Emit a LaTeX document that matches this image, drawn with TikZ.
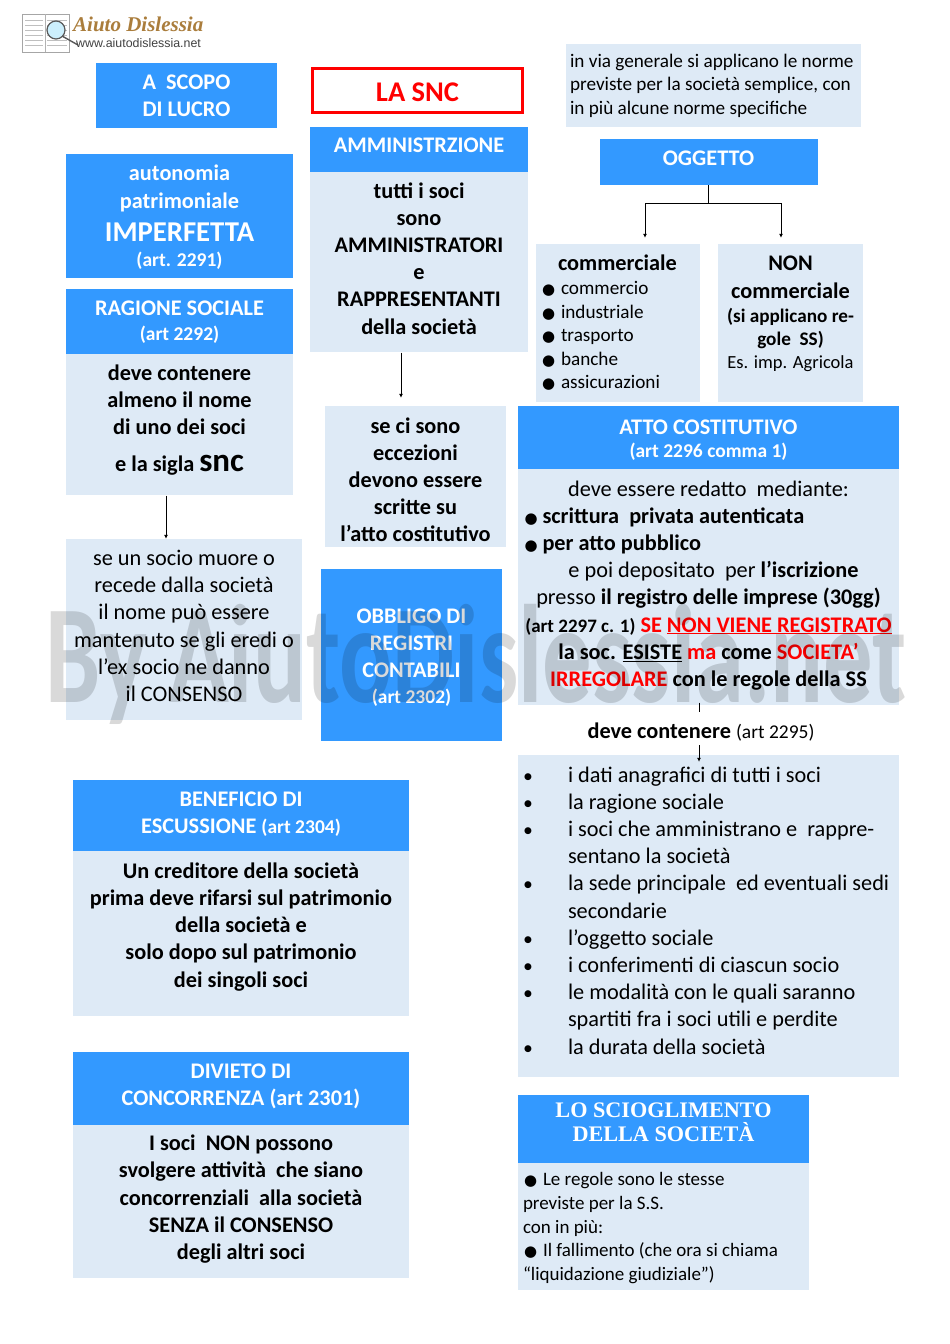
\documentclass[tikz,border=0pt]{standalone}
\usepackage{fontspec}
\setmainfont{Carlito}
\newfontfamily\symfont{DejaVu Sans}
\newfontfamily\titlefont{Liberation Serif}
\newfontfamily\logofont{Liberation Sans}
\usetikzlibrary{arrows.meta, positioning}
\definecolor{headblue}{HTML}{3399FF}
\definecolor{bodyblue}{HTML}{DEEAF6}
\definecolor{logobrown}{RGB}{170,125,60}
\newcommand{\bodysize}{\fontsize{22.3}{27.2}\selectfont}
\newcommand{\artsize}{\fontsize{19.5}{27.2}\selectfont}
\newcommand{\smallsize}{\fontsize{19}{23.6}\selectfont}
\newcommand{\pallino}[1]{\makebox[#1][l]{{\symfont\fontsize{15}{15}\selectfont ●}}}
\newcommand{\puntino}[1]{\makebox[#1][l]{\raisebox{3pt}{\symfont\fontsize{9}{9}\selectfont ●}}}
\newcommand{\rosso}[1]{\textcolor{red}{#1}}

\begin{document}
\begin{tikzpicture}[
    x=1pt, y=-1pt,
    box/.style={inner xsep=0pt, inner ysep=0pt, align=flush center, font=\bodysize},
    headbox/.style={box, fill=headblue, text=white, font=\bodysize\bfseries},
    boldbox/.style={box, fill=bodyblue, font=\bodysize\bfseries},
    plainbox/.style={box, fill=bodyblue},
    dim/.style 2 args={text width=#1pt, minimum height=#2pt},
    raised/.style={execute at end node={\\[#1]\mbox{}}},
    lowered/.style={execute at begin node={\mbox{}\\[#1]}},
    arr/.style={-{Latex[length=4pt,width=4pt]}, line width=0.9pt}
  ]
    \useasboundingbox (0,0) rectangle (950,1344);
    % logo
    \fill[white, draw=gray!70, line width=1pt] (22,14) rectangle (69,52);
    \draw[gray!60, line width=0.8pt] (45,14) -- (45,52);
    \foreach \yy in {20,25,30,35,40,45} {
      \draw[gray!50, line width=0.7pt] (25,\yy) -- (43,\yy);
      \draw[gray!50, line width=0.7pt] (47,\yy) -- (67,\yy);
    }
    \draw[gray!70!black, line width=1.4pt] (62,36) -- (78,45);
    \draw[gray!70!black, fill=cyan!20, line width=1.2pt] (56,30) circle (9);
    \node[anchor=west, inner sep=0pt, text=logobrown, font=\titlefont\bfseries\itshape\fontsize{21}{21}\selectfont] (logotitle) at (73,24) {Aiuto Dislessia};
    \node[anchor=west, inner sep=0pt, text=black!75, font=\logofont\fontsize{12.4}{12.4}\selectfont] (logourl) at (76,43) {www.aiutodislessia.net};
    % colonna sinistra
    \node[headbox, dim={181}{65}] (scopo) at (186.5,95.5) {A\ \ SCOPO\\DI LUCRO};
    \node[headbox, dim={227}{124}, lowered=-9pt] (autonomia) at (179.5,216) {autonomia\\patrimoniale\\[6pt]{\fontsize{28.7}{27}\selectfont IMPERFETTA}\\[-2pt]{\artsize (art. 2291)}};
    \node[headbox, dim={227}{65}, lowered=-11.5pt] (ragione) at (179.5,321.5) {RAGIONE SOCIALE\\[-2pt]{\artsize (art 2292)}};
    \node[boldbox, dim={227}{141}, below=0pt of ragione, raised=-13pt] (nome) {deve contenere\\almeno il nome\\di uno dei soci\\[9.5pt]e la sigla {\fontsize{33}{30}\selectfont snc}};
    \node[plainbox, dim={236}{181}, raised=-20pt] (muore) at (184,629.5) {se un socio muore o\\recede dalla società\\il nome può essere\\mantenuto se gli eredi o\\l’ex socio ne danno\\il CONSENSO};
    \draw[arr] ([xshift=-13.5pt]nome.south) -- ([xshift=-18pt]muore.north);
    % colonna centrale
    \node[box, draw=red, line width=3pt, dim={210}{44}, text=red, font=\fontsize{28.5}{28.5}\selectfont\bfseries, lowered=-6.5pt] (snc) at (417.5,90.5) {LA SNC};
    \node[headbox, dim={218}{45}, raised=-18pt] (amm) at (419,149.5) {AMMINISTRZIONE};
    \node[boldbox, dim={218}{180}, below=0pt of amm, raised=-19pt] (soci) {tutti i soci\\sono\\AMMINISTRATORI\\e\\RAPPRESENTANTI\\della società};
    \node[boldbox, dim={181}{141}, lowered=-5pt] (eccezioni) at (415.5,476.5) {se ci sono\\eccezioni\\devono essere\\scritte su\\l’atto costitutivo};
    \draw[arr] ([xshift=-18pt]soci.south) -- ([xshift=-14.5pt,yshift=8pt]eccezioni.north);
    \node[headbox, dim={181}{172}, lowered=-7.7pt] (obbligo) at (411.5,655) {OBBLIGO DI\\REGISTRI\\CONTABILI\\[-2pt]{\artsize (art 2302)}};
    % colonna destra
    \node[plainbox, dim={287}{83}, inner xsep=4pt, align=flush left, font=\fontsize{19.2}{23.6}\selectfont] (norme) at (713.5,85.5) {in via generale si applicano le norme\\previste per la società semplice, con\\in più alcune norme specifiche};
    \node[headbox, dim={218}{46}, raised=-20pt] (oggetto) at (708.5,162) {OGGETTO};
    \node[plainbox, dim={164}{158}, align=flush left, font=\fontsize{19.2}{23.6}\selectfont] (commerciale) at (618,323) {\hspace*{22pt}{\bodysize\bfseries commerciale}\\[0pt]
      \hspace*{6pt}\pallino{19pt}commercio\\\hspace*{6pt}\pallino{19pt}industriale\\\hspace*{6pt}\pallino{19pt}trasporto\\\hspace*{6pt}\pallino{19pt}banche\\\hspace*{6pt}\pallino{19pt}assicurazioni};
    \node[boldbox, dim={145}{158}, raised=-6pt] (noncomm) at (790.5,323) {NON\\commerciale\\[-3pt]{\fontsize{19.2}{23.6}\selectfont (si applicano re-}\\[-4pt]{\fontsize{19.2}{23.6}\selectfont gole\ \ SS)}\\[-4pt]{\fontsize{18.5}{23.6}\selectfont\mdseries Es. imp. Agricola}};
    \coordinate (fork) at (708.5,203);
    \draw[line width=0.9pt] (oggetto.south) -- (fork);
    \draw[arr, shorten >=6pt] (fork) -| ([xshift=27pt]commerciale.north);
    \draw[arr, shorten >=6pt] (fork) -| ([xshift=-9.5pt]noncomm.north);
    \node[headbox, dim={381}{63}, lowered=-7pt] (atto) at (708.5,437.5) {ATTO COSTITUTIVO\\[-4pt]{\artsize (art 2296 comma 1)}};
    \node[plainbox, dim={381}{236}, below=0pt of atto, raised=-19.5pt] (redatto) {deve essere redatto\ \ mediante:\\
      \makebox[368pt][l]{\pallino{18pt}\textbf{scrittura\ \ privata autenticata}}\\
      \makebox[368pt][l]{\pallino{18pt}\textbf{per atto pubblico}}\\
      \hspace*{10pt}e poi depositato\ \ per \textbf{l’iscrizione}\\
      presso \textbf{il registro delle imprese (30gg)}\\
      \textbf{{\fontsize{19}{27.2}\selectfont (art 2297 c. 1)} \rosso{SE \underline{NON VIENE REGISTRATO}}}\\
      \textbf{la soc. \underline{ESISTE} \rosso{ma} come \rosso{SOCIETA’}}\\
      \textbf{\rosso{IRREGOLARE} con le regole della SS}};
    \node[inner sep=0pt, minimum height=33pt, font=\bodysize] (contenere) at (701,732) {\textbf{deve contenere} {\artsize (art 2295)}};
    \draw[line width=0.9pt, shorten <=-3pt, shorten >=3.5pt] ([xshift=-9.5pt]redatto.south) -- ([xshift=-2pt]contenere.north);
    \node[plainbox, dim={381}{322}, align=flush left, raised=-16pt] (dati) at (708.5,916) {%
      \hspace*{6pt}\puntino{44pt}i dati anagrafici di tutti i soci\\
      \hspace*{6pt}\puntino{44pt}la ragione sociale\\
      \hspace*{6pt}\puntino{44pt}i soci che amministrano e\ \ rappre-\\
      \hspace*{50pt}sentano la società\\
      \hspace*{6pt}\puntino{44pt}la sede principale\ \ ed eventuali sedi\\
      \hspace*{50pt}secondarie\\
      \hspace*{6pt}\puntino{44pt}l’oggetto sociale\\
      \hspace*{6pt}\puntino{44pt}i conferimenti di ciascun socio\\
      \hspace*{6pt}\puntino{44pt}le modalità con le quali saranno\\
      \hspace*{50pt}spartiti fra i soci utili e perdite\\
      \hspace*{6pt}\puntino{44pt}la durata della società};
    \draw[arr, shorten <=-3.5pt, shorten >=-7pt] ([xshift=-2pt]contenere.south) -- ([xshift=-9.5pt]dati.north);
    \node[headbox, dim={291}{68}, font=\titlefont\bfseries\fontsize{22.2}{24}\selectfont, raised=-10pt] (scioglimento) at (663.5,1129) {LO SCIOGLIMENTO\\DELLA SOCIETÀ};
    \node[plainbox, dim={281}{127}, below=0pt of scioglimento, inner xsep=5pt, align=flush left, font=\smallsize, lowered=-8pt] (regole) {\hspace*{1pt}\pallino{19pt}Le regole sono le stesse\\previste per la S.S.\\con in più:\\\hspace*{1pt}\pallino{19pt}Il fallimento (che ora si chiama\\“liquidazione giudiziale”)};
    % riquadri in basso a sinistra
    \node[headbox, dim={336}{71}, raised=-21pt] (beneficio) at (241,815.5) {BENEFICIO DI\\ESCUSSIONE {\artsize (art 2304)}};
    \node[boldbox, dim={336}{165}, below=0pt of beneficio, raised=-9pt] (creditore) {Un creditore della società\\prima deve rifarsi sul patrimonio\\della società e\\solo dopo sul patrimonio\\dei singoli soci};
    \node[headbox, dim={336}{73}, raised=-19pt] (divieto) at (241,1088.5) {DIVIETO DI\\CONCORRENZA (art 2301)};
    \node[boldbox, dim={336}{153}, below=0pt of divieto, raised=-18pt] (concorrenza) {I soci\ \ NON possono\\svolgere attività\ \ che siano\\concorrenziali\ \ alla società\\SENZA il CONSENSO\\degli altri soci};
    % scritta in trasparenza
    \node[anchor=base, inner sep=0pt, text=black, text opacity=0.15, font=\bfseries\fontsize{140}{140}\selectfont] (marchio) at (476,702) {\scalebox{0.705}[1]{By AiutoDislessia.net}};
\end{tikzpicture}
\end{document}
